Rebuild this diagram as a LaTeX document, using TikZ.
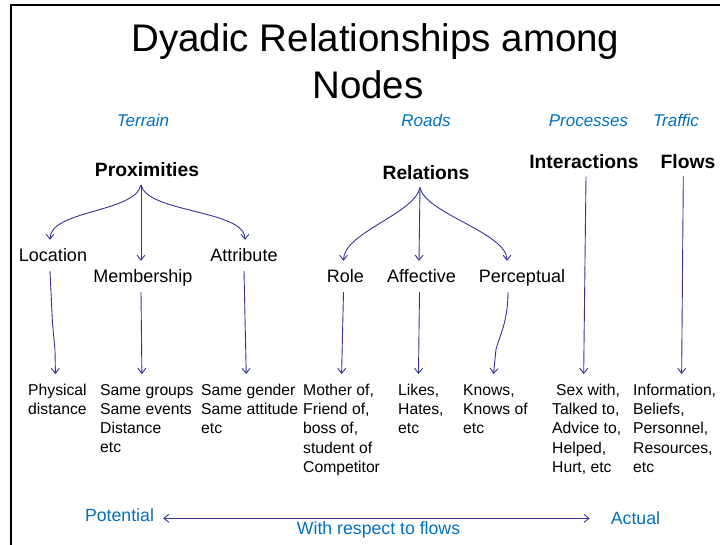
\documentclass[tikz,border=0pt]{standalone}
\usepackage{fontspec}
\setmainfont{Liberation Sans}
\usetikzlibrary{arrows.meta}
\definecolor{linkblue}{RGB}{51,51,153}
\definecolor{notecyan}{RGB}{0,112,192}
\begin{document}
\begin{tikzpicture}[x=1pt,y=-1pt,
		>={Straight Barb[length=5pt,width=8pt]},
		link/.style={->,draw=linkblue,line width=0.9pt},
		headline/.style={anchor=base,font=\fontsize{38.5}{46}\selectfont},
		layertag/.style={anchor=base,text=notecyan,font=\itshape\fontsize{17}{20}\selectfont},
		heading/.style={anchor=base,font=\bfseries\fontsize{19.3}{23}\selectfont,text height=14pt,text depth=0pt,inner xsep=0pt,inner ysep=8pt},
		kind/.style={anchor=base,font=\fontsize{18}{22}\selectfont,text height=13pt,text depth=0pt,inner xsep=0pt,inner ysep=9pt},
		examples/.style={anchor=north west,align=left,inner xsep=0pt,inner ysep=10pt,font=\fontsize{15.7}{19.2}\selectfont},
		axislabel/.style={anchor=base,text=notecyan,inner xsep=0pt,font=\fontsize{17.7}{21}\selectfont}]
	\useasboundingbox (0,0) rectangle (720,545);
	\draw [line width=2pt] (720,5.5) -- (11,5.5) -- (11,545);
	% title
	\node [headline] (title) at (375.5,52) {Dyadic Relationships among};
	\node [headline] (title2) at (368,99) {Nodes};
	% layers
	\node [layertag] (terrain) at (143,127) {Terrain};
	\node [layertag] (roads) at (426,127) {Roads};
	\node [layertag] (processes) at (588.5,127) {Processes};
	\node [layertag] (traffic) at (676,127) {Traffic};
	% headings
	\node [heading] (prox) at (147,176.7) {Proximities};
	\node [heading] (rel) at (426,179.3) {Relations};
	\node [heading] (inter) at (584,168.3) {Interactions};
	\node [heading] (flows) at (688,168.3) {Flows};
	% kinds
	\node [kind] (loc) at (53,262) {Location};
	\node [kind] (memb) at (143,283) {Membership};
	\node [kind] (attr) at (244,262) {Attribute};
	\node [kind] (role) at (345.5,283) {Role};
	\node [kind] (aff) at (421.5,283) {Affective};
	\node [kind] (perc) at (522,283) {Perceptual};
	% examples
	\node [examples] (phys) at (28,374) {Physical\\distance};
	\node [examples] (same) at (100,374) {Same groups\\Same events\\Distance\\etc};
	\node [examples] (gender) at (201,374) {Same gender\\Same attitude\\etc};
	\node [examples] (mother) at (303,374) {Mother of,\\Friend of,\\boss of,\\student of\\Competitor};
	\node [examples] (likes) at (398,374) {Likes,\\Hates,\\etc};
	\node [examples] (knows) at (463,374) {Knows,\\Knows of\\etc};
	\node [examples] (sex) at (552,374) {\hspace*{4pt}Sex with,\\Talked to,\\Advice to,\\Helped,\\Hurt, etc};
	\node [examples] (info) at (633,374) {Information,\\Beliefs,\\Personnel,\\Resources,\\etc};
	% branches
	\draw [link] ([xshift=-6pt]prox.south) .. controls +(-6,28) and +(0,-30) .. ([xshift=-3pt]loc.north);
	\draw [link] ([xshift=-6pt]prox.south) -- ([xshift=-2pt]memb.north);
	\draw [link] ([xshift=-6pt]prox.south) .. controls +(6,28) and +(0,-30) .. ([xshift=1pt]attr.north);
	\draw [link] ([xshift=-6pt]rel.south) .. controls +(-5,26) and +(0,-28) .. ([xshift=-2pt]role.north);
	\draw [link] ([xshift=-6pt]rel.south) -- ([xshift=-2.5pt]aff.north);
	\draw [link] ([xshift=-6pt]rel.south) .. controls +(5,26) and +(0,-28) .. ([xshift=-15pt]perc.north);
	% down to examples
	\draw [link] ([xshift=-3pt]loc.south) -- +(2.5,52) -- +(5,79) -- ([xshift=-2pt]phys.north);
	\draw [link] ([xshift=-2pt]memb.south) -- ([xshift=-5pt]same.north);
	\draw [link] (attr.south) -- ([xshift=-3.4pt]gender.north);
	\draw [link] ([xshift=-2pt]role.south) -- (mother.north);
	\draw [link] ([xshift=-2pt]aff.south) -- ([xshift=-2.4pt]likes.north);
	\draw [link] ([xshift=-14pt]perc.south) .. controls +(0,30) and +(3,-12) .. +(-12,57) -- ([xshift=-2pt]knows.north);
	\draw [link] ([xshift=2pt]inter.south) -- ([xshift=-3pt]sex.north);
	\draw [link] ([xshift=-4.7pt]flows.south) -- ([xshift=7pt]info.north);
	% scale
	\node [axislabel] (pot) at (119.5,521) {Potential};
	\node [axislabel] (act) at (635.5,524) {Actual};
	\node [axislabel] (wrt) at (378.5,534) {With respect to flows};
	\draw [link,<->,shorten <=9pt,shorten >=21pt] (pot.mid east) -- (pot.mid east -| act.west);
\end{tikzpicture}
\end{document}
